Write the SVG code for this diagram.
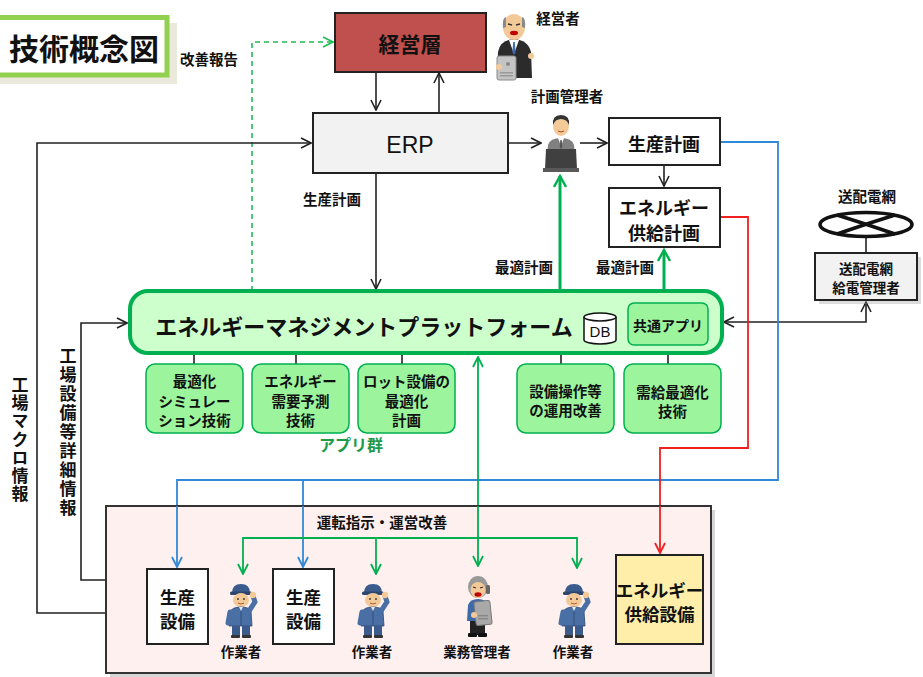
<svg xmlns="http://www.w3.org/2000/svg" width="923" height="677" viewBox="0 0 923 677">
  <style>
    text { font-family: "Noto Sans CJK JP", "Noto Sans", "Liberation Sans", sans-serif; fill: #111; text-anchor: middle; dominant-baseline: central; }
    .b { font-weight: bold; }
    .vt { writing-mode: vertical-rl; text-anchor: start; }
    .box { stroke: #222; stroke-width: 2; }
    .ln { fill: none; stroke: #222; stroke-width: 1.6; }
    .lnb { fill: none; stroke: #2f88d8; stroke-width: 1.8; }
    .lnr { fill: none; stroke: #f02020; stroke-width: 1.8; }
    .lng { fill: none; stroke: #00b050; stroke-width: 3; }
    .lngt { fill: none; stroke: #00b050; stroke-width: 1.8; }
    .app { fill: #9cf59c; stroke: #00b050; stroke-width: 1.5; }
    .skin { fill: #f3c998; }
  </style>
  <defs>
    <marker id="ah" viewBox="0 0 12 12" refX="11" refY="6" markerWidth="12" markerHeight="12" markerUnits="userSpaceOnUse" orient="auto-start-reverse">
      <path d="M1,1 L11,6 L1,11" fill="none" stroke="#222" stroke-width="1.6"/>
    </marker>
    <marker id="ahg" viewBox="0 0 14 14" refX="12" refY="7" markerWidth="14" markerHeight="14" markerUnits="userSpaceOnUse" orient="auto-start-reverse">
      <path d="M1,1 L12,7 L1,13" fill="none" stroke="#00b050" stroke-width="2.4"/>
    </marker>
    <marker id="ahgt" viewBox="0 0 12 12" refX="11" refY="6" markerWidth="12" markerHeight="12" markerUnits="userSpaceOnUse" orient="auto-start-reverse">
      <path d="M1,1 L11,6 L1,11" fill="none" stroke="#00b050" stroke-width="1.8"/>
    </marker>
    <marker id="ahd" viewBox="0 0 12 12" refX="11" refY="6" markerWidth="12" markerHeight="12" markerUnits="userSpaceOnUse" orient="auto">
      <path d="M1,1 L11,6 L1,11" fill="none" stroke="#22bb55" stroke-width="1.6"/>
    </marker>
    <marker id="ahb" viewBox="0 0 12 12" refX="11" refY="6" markerWidth="12" markerHeight="12" markerUnits="userSpaceOnUse" orient="auto">
      <path d="M1,1 L11,6 L1,11" fill="none" stroke="#2f88d8" stroke-width="1.8"/>
    </marker>
    <marker id="ahr" viewBox="0 0 12 12" refX="11" refY="6" markerWidth="12" markerHeight="12" markerUnits="userSpaceOnUse" orient="auto">
      <path d="M1,1 L11,6 L1,11" fill="none" stroke="#f02020" stroke-width="1.8"/>
    </marker>

    <!-- factory worker figure, saluting -->
    <symbol id="worker" viewBox="0 0 33 54" width="33" height="54">
      <path d="M7,9 Q7,0 16,0 Q25,0 25,9 Z" fill="#3b5b8c"/>
      <rect x="5" y="7.5" width="22" height="3.5" rx="1.5" fill="#2d4670"/>
      <ellipse cx="16" cy="16" rx="8" ry="7" class="skin"/>
      <circle cx="13" cy="15" r="0.9" fill="#333"/>
      <circle cx="19" cy="15" r="0.9" fill="#333"/>
      <path d="M13,19 Q16,21 19,19" fill="none" stroke="#a0522d" stroke-width="0.9"/>
      <path d="M4,42 L5,28 Q7,23 16,23 Q24,23 26,27 L27,42 Z" fill="#4a6fa5" stroke="#2d4670" stroke-width="0.8"/>
      <path d="M14,23 L16,27 L18,23 Z" fill="#dfe8f5"/>
      <path d="M16,27 L16,42" stroke="#2d4670" stroke-width="0.8"/>
      <path d="M24,27 L30,18 L28,12" fill="none" stroke="#4a6fa5" stroke-width="5" stroke-linecap="round"/>
      <circle cx="28" cy="11" r="3.2" class="skin"/>
      <path d="M5,28 L3,39" stroke="#4a6fa5" stroke-width="5" stroke-linecap="round"/>
      <rect x="7" y="42" width="8" height="10" fill="#3b5b8c"/>
      <rect x="17" y="42" width="8" height="10" fill="#3b5b8c"/>
      <rect x="6" y="51" width="9" height="3" rx="1" fill="#333"/>
      <rect x="17" y="51" width="9" height="3" rx="1" fill="#333"/>
    </symbol>
  </defs>

  <!-- heading -->
  <g id="title">
    <rect x="-4" y="23" width="181" height="61" fill="#ebe8dc"/>
    <rect x="-6" y="17.5" width="173" height="57.5" fill="#fff" stroke="#92d050" stroke-width="5"/>
    <text x="84" y="47" class="b" style="font-size:30px">技術概念図</text>
  </g>

  <!-- connectors -->
  <g id="connectors">
    <!-- improvement report (dashed) -->
    <path d="M252,291 L252,42 L333,42" fill="none" stroke="#22bb55" stroke-width="1.6" stroke-dasharray="5,4" marker-end="url(#ahd)"/>
    <!-- management <-> ERP -->
    <path d="M376,72 L376,110" class="ln" marker-end="url(#ah)"/>
    <path d="M439,112 L439,73" class="ln" marker-end="url(#ah)"/>
    <!-- ERP -> planner -> production plan -> energy plan -->
    <path d="M508,143 L541,143" class="ln" marker-end="url(#ah)"/>
    <path d="M580,143 L607,143" class="ln" marker-end="url(#ah)"/>
    <path d="M664,166 L664,186" class="ln" marker-end="url(#ah)"/>
    <!-- ERP -> platform -->
    <path d="M376,174 L376,289" class="ln" marker-end="url(#ah)"/>
    <!-- factory macro info -->
    <path d="M106,613 L37,613 L37,143 L311,143" class="ln" marker-end="url(#ah)"/>
    <!-- factory equipment detail info -->
    <path d="M147,580 L81,580 L81,323 L127,323" class="ln" marker-end="url(#ah)" stroke-width="2"/>
    <!-- optimal plans -->
    <path d="M560,290 L560,176" class="lng" marker-end="url(#ahg)"/>
    <path d="M664,290 L664,250" class="lng" marker-end="url(#ahg)"/>
    <!-- platform <-> grid operator -->
    <path d="M724,322 L866,322 L866,302" class="ln" marker-start="url(#ah)" marker-end="url(#ah)"/>
    <!-- grid symbol to operator -->
    <path d="M866,237 L866,253" class="ln"/>
    <!-- production plan -> production equipment (blue) -->
    <path d="M720,142 L778,142 L778,480 L177,480 L177,567" class="lnb" marker-end="url(#ahb)"/>
    <path d="M303,480 L303,567" class="lnb" marker-end="url(#ahb)"/>
    <!-- energy supply plan -> energy supply equipment (red) -->
    <path d="M720,217 L748,217 L748,448 L660,448 L660,553" class="lnr" marker-end="url(#ahr)"/>
    <!-- platform apps -->
    <path d="M194,354 L194,364 M296,354 L296,364 M402,354 L402,364 M561,354 L561,364 M668,354 L668,364" class="ln" stroke-width="1.4"/>
    <!-- operation instructions (green) -->
    <path d="M478,357 L478,566" class="lngt" marker-start="url(#ahgt)" marker-end="url(#ahgt)"/>
  </g>

  <text x="209" y="58" class="b" style="font-size:14.5px">改善報告</text>
  <text x="332" y="198" class="b" style="font-size:14.5px">生産計画</text>
  <text x="524" y="266" class="b" style="font-size:14.5px">最適計画</text>
  <text x="625" y="266" class="b" style="font-size:14.5px">最適計画</text>

  <!-- vertical labels -->
  <text x="20" y="376" class="b vt" style="font-size:17px; letter-spacing:1.2px">工場マクロ情報</text>
  <text x="68" y="347" class="b vt" style="font-size:17px; letter-spacing:2px">工場設備等詳細情報</text>

  <!-- management layer -->
  <g id="management">
    <rect x="335" y="13" width="151" height="59" fill="#c0504d" class="box"/>
    <text x="410" y="43" class="b" style="font-size:21px">経営層</text>
  </g>

  <!-- executive figure -->
  <g id="executive" transform="translate(494,12)">
    <path d="M3,66 L4,40 Q6,28 20,27 Q34,28 37,40 L38,66 Z" fill="#2b2b2b"/>
    <path d="M15,28 L20,42 L25,28 Z" fill="#fff"/>
    <path d="M19.2,30 L20.8,30 L21.6,40 L20,43 L18.4,40 Z" fill="#3a6cb0"/>
    <ellipse cx="20" cy="15" rx="11" ry="13" class="skin"/>
    <path d="M9,16 Q8,6 12,5 L12,15 Z M31,16 Q32,6 28,5 L28,15 Z" fill="#8a8a8a"/>
    <path d="M14,12 L18,13 M22,13 L26,12" stroke="#333" stroke-width="1.4"/>
    <ellipse cx="20" cy="21" rx="4" ry="2.2" fill="#c00000"/>
    <rect x="3" y="44" width="19" height="24" rx="2" fill="#c4c4c4" stroke="#8a8a8a"/>
    <circle cx="14" cy="52" r="2" fill="#8a8a8a"/>
    <rect x="6" y="60" width="13" height="1.5" fill="#999"/>
    <rect x="6" y="63" width="13" height="1.5" fill="#999"/>
    <circle cx="5" cy="55" r="3" class="skin"/>
    <circle cx="37" cy="44" r="3" class="skin"/>
  </g>
  <text x="558" y="17" class="b" style="font-size:14.5px">経営者</text>

  <!-- ERP -->
  <g id="erp">
    <rect x="313" y="113" width="195" height="60" fill="#f2f2f2" class="box"/>
    <text x="410" y="145" style="font-family:'Liberation Sans', sans-serif; font-size:23px">ERP</text>
  </g>

  <!-- planning manager -->
  <g id="planner" transform="translate(543,113)">
    <path d="M4,42 L5,32 Q7,25 18,25 Q29,25 31,32 L32,42 Z" fill="#808080"/>
    <path d="M15,25 L18,33 L21,25 Z" fill="#fff"/>
    <path d="M17.3,27 L18.7,27 L19.3,34 L18,36 L16.7,34 Z" fill="#555"/>
    <ellipse cx="18" cy="13" rx="8" ry="10" class="skin"/>
    <path d="M10,12 Q9,2 18,2 Q27,2 26,12 Q24,6 18,6 Q12,6 10,12 Z" fill="#333"/>
    <path d="M15,18 Q18,20 21,18" fill="none" stroke="#a0522d" stroke-width="1"/>
    <path d="M3,36 L33,36 L34,56 L2,56 Z" fill="#404040"/>
    <rect x="0" y="55" width="36" height="4" fill="#595959"/>
  </g>
  <text x="567" y="95" class="b" style="font-size:14.5px">計画管理者</text>

  <!-- production plan -->
  <g id="production-plan">
    <rect x="609" y="118" width="111" height="47" fill="#fff" class="box"/>
    <text x="664" y="143" class="b" style="font-size:18px">生産計画</text>
  </g>

  <!-- energy supply plan -->
  <g id="energy-plan">
    <rect x="609" y="188" width="111" height="59" fill="#fff" class="box"/>
    <text x="664" y="207" class="b" style="font-size:18px">エネルギー</text>
    <text x="664" y="232" class="b" style="font-size:18px">供給計画</text>
  </g>

  <!-- power grid -->
  <g id="grid">
    <text x="867" y="195" class="b" style="font-size:14.5px">送配電網</text>
    <ellipse cx="866" cy="224.5" rx="46" ry="12" fill="#fff" stroke="#111" stroke-width="3.5"/>
    <path d="M837,215 Q866,224 895,234 M837,234 Q866,224 895,215" fill="none" stroke="#111" stroke-width="3.5"/>
  </g>
  <g id="grid-operator">
    <rect x="819" y="257" width="102" height="47" fill="#9a9a9a" opacity="0.35"/>
    <rect x="815" y="253" width="102" height="47" fill="#f2f2f2" class="box"/>
    <text class="b" style="font-size:13.5px"><tspan x="866" y="268">送配電網</tspan><tspan x="866" y="287">給電管理者</tspan></text>
  </g>

  <!-- energy management platform -->
  <g id="platform">
    <rect x="130" y="291" width="592" height="62" rx="18" fill="#ccffcc" stroke="#00b050" stroke-width="4"/>
    <text x="364" y="325" class="b" style="font-size:22px">エネルギーマネジメントプラットフォーム</text>
    <path d="M584,317 L584,340 A16,4 0 0 0 616,340 L616,317" fill="#fff" stroke="#111" stroke-width="1.5"/>
    <ellipse cx="600" cy="317" rx="16" ry="4" fill="#fff" stroke="#111" stroke-width="1.5"/>
    <text x="600" y="331" style="font-family:'Liberation Sans', sans-serif; font-size:15px">DB</text>
    <rect x="628" y="303" width="80" height="42" rx="6" class="app"/>
    <text x="668" y="325" class="b" style="font-size:14px">共通アプリ</text>
  </g>

  <!-- applications -->
  <g id="app-sim">
    <rect x="146" y="364" width="97" height="69" rx="9" class="app"/>
    <text x="194.5" y="380" class="b" style="font-size:14.5px">最適化</text>
    <text x="194.5" y="400" class="b" style="font-size:14.5px">シミュレー</text>
    <text x="194.5" y="419" class="b" style="font-size:14.5px">ション技術</text>
  </g>
  <g id="app-demand">
    <rect x="252" y="364" width="97" height="69" rx="9" class="app"/>
    <text x="300.5" y="380" class="b" style="font-size:14.5px">エネルギー</text>
    <text x="300.5" y="400" class="b" style="font-size:14.5px">需要予測</text>
    <text x="300.5" y="419" class="b" style="font-size:14.5px">技術</text>
  </g>
  <g id="app-lot">
    <rect x="358" y="364" width="97" height="69" rx="9" class="app"/>
    <text x="406.5" y="380" class="b" style="font-size:14.5px">ロット設備の</text>
    <text x="406.5" y="400" class="b" style="font-size:14.5px">最適化</text>
    <text x="406.5" y="419" class="b" style="font-size:14.5px">計画</text>
  </g>
  <g id="app-ops">
    <rect x="517" y="364" width="97" height="69" rx="9" class="app"/>
    <text x="565.5" y="390" class="b" style="font-size:14.5px">設備操作等</text>
    <text x="565.5" y="409" class="b" style="font-size:14.5px">の運用改善</text>
  </g>
  <g id="app-balance">
    <rect x="624" y="364" width="97" height="69" rx="9" class="app"/>
    <text x="672.5" y="391" class="b" style="font-size:14.5px">需給最適化</text>
    <text x="672.5" y="410" class="b" style="font-size:14.5px">技術</text>
  </g>
  <text x="351" y="444" class="b" style="font-size:16px; fill:#1f9a4a">アプリ群</text>

  <!-- factory area -->
  <g id="factory">
    <rect x="110" y="510" width="605" height="167" fill="#8a8a8a" opacity="0.35"/>
    <rect x="106" y="506" width="605" height="167" fill="#fff0f0" stroke="#333" stroke-width="2"/>
    <text x="382" y="521" class="b" style="font-size:14.5px">運転指示・運営改善</text>
  </g>

  <!-- connectors inside the factory area -->
  <g id="connectors-inner">
    <path d="M177,506 L177,567" class="lnb" marker-end="url(#ahb)"/>
    <path d="M303,506 L303,567" class="lnb" marker-end="url(#ahb)"/>
    <path d="M660,506 L660,553" class="lnr" marker-end="url(#ahr)"/>
    <path d="M478,506 L478,566" class="lngt" marker-end="url(#ahgt)"/>
    <path d="M243,574 L243,538 L577,538 L577,568" class="lngt" marker-start="url(#ahgt)" marker-end="url(#ahgt)"/>
    <path d="M376,538 L376,574" class="lngt" marker-end="url(#ahgt)"/>
  </g>

  <g id="equipment-1">
    <rect x="147" y="569" width="61" height="75" fill="#fff" class="box"/>
    <text class="b" style="font-size:17.5px"><tspan x="177.5" y="596">生産</tspan><tspan x="177.5" y="620">設備</tspan></text>
  </g>
  <g id="equipment-2">
    <rect x="273" y="569" width="61" height="75" fill="#fff" class="box"/>
    <text class="b" style="font-size:17.5px"><tspan x="303.5" y="596">生産</tspan><tspan x="303.5" y="620">設備</tspan></text>
  </g>
  <g id="energy-equipment">
    <rect x="616" y="555" width="87" height="89" fill="#ffeeaa" class="box"/>
    <text x="659.5" y="589" class="b" style="font-size:17.5px">エネルギー</text>
    <text x="659.5" y="613" class="b" style="font-size:17.5px">供給設備</text>
  </g>

  <g id="worker-1">
    <use href="#worker" x="225" y="584"/>
    <text x="241" y="651" class="b" style="font-size:13.5px">作業者</text>
  </g>
  <g id="worker-2">
    <use href="#worker" x="357" y="584"/>
    <text x="372" y="651" class="b" style="font-size:13.5px">作業者</text>
  </g>
  <g id="worker-3">
    <use href="#worker" x="558" y="584"/>
    <text x="573" y="651" class="b" style="font-size:13.5px">作業者</text>
  </g>
  <g id="supervisor">
    <g transform="translate(464,575)">
      <rect x="6" y="44" width="15" height="16" fill="#222"/>
      <rect x="4" y="58" width="9" height="4" rx="1" fill="#111"/>
      <rect x="14" y="58" width="9" height="4" rx="1" fill="#111"/>
      <path d="M3,46 L4,30 Q6,24 14,24 Q22,24 24,30 L25,46 Z" fill="#3f6aa8"/>
      <ellipse cx="14" cy="12" rx="10" ry="11" fill="#9a9a9a"/>
      <ellipse cx="14" cy="15" rx="7.5" ry="8" class="skin"/>
      <path d="M9,12 L12,13 M16,13 L19,12" stroke="#333" stroke-width="1.2"/>
      <ellipse cx="14" cy="19.5" rx="3.5" ry="2.2" fill="#c00000"/>
      <rect x="22" y="10" width="4" height="9" rx="1.5" fill="#666"/>
      <rect x="11" y="26" width="16" height="24" rx="2" fill="#a9a9a9" stroke="#777" transform="rotate(-6 19 38)"/>
      <rect x="14" y="40" width="10" height="1.4" fill="#888"/>
      <rect x="14" y="43" width="10" height="1.4" fill="#888"/>
      <circle cx="10" cy="40" r="3" class="skin"/>
    </g>
    <text x="477" y="651" class="b" style="font-size:13.5px">業務管理者</text>
  </g>
</svg>
